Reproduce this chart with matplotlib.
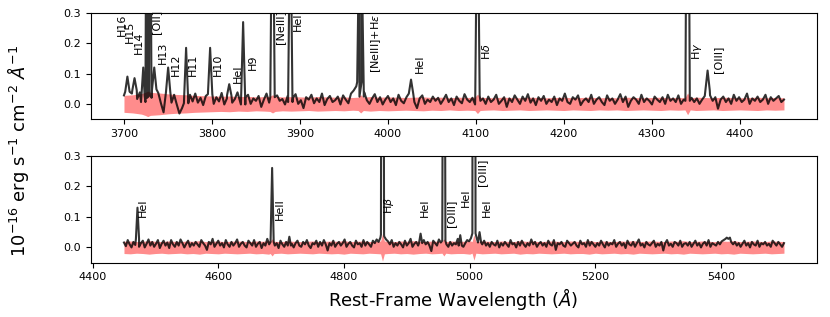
import matplotlib
matplotlib.use('Agg')

import matplotlib.pyplot as plt
import matplotlib.ticker as ticker
import numpy             as np


save_name = 'out.png'

# continuum samples, every 3 A, in units of 1e-3 (x 1e-16 erg/s/cm2/A)
top_start = 3700
bot_start = 4450
cont_step = 3

top_cont = [
    28, 40, 10, 34, 45, 16, 38, 6, 42, 26, 20, 48, 12, 36, 2, -28, 26, 38, 4, 30,
    -2, -32, -14, 24, 2, 30, 8, 34, 4, 20, -4, 26, 12, 32, 0, 22, 8, 36, -2, 18,
    28, 4, 16, 38, 8, -2, 22, 30, 0, 18, 10, 26, -10, 14, 34, 4, 22, 0, 28, 10,
    16, -2, 26, 6, 20, 32, 0, 12, -14, 22, 14, 30, 2, 18, 6, 34, -4, 16, 26, 6,
    12, 24, -2, 28, 14, 2, 34, 44, 58, 72, 24, 38, 12, 0, 18, 32, 6, 22, -2, 14,
    26, 6, 18, -4, 30, 10, 2, 22, 14, 34, 6, -14, 18, 28, 0, 14, 6, 24, 10, 20,
    0, 14, 30, 6, 18, -4, 24, 10, 2, 32, 14, 6, 20, -2, 28, 10, 18, 0, 24, 6,
    14, 30, 0, 10, 22, -10, 18, 6, 28, 14, 0, 24, 10, 32, 4, 18, -4, 22, 10, 26,
    0, 14, 6, 24, -4, 18, 10, 34, 6, 0, 22, 14, 28, -4, 10, 18, 6, 30, 0, 14,
    22, 6, -4, 28, 10, 18, 0, 14, 32, 6, 24, -10, 10, 22, 14, 0, 30, 6, 18, 10,
    -2, 24, 14, 6, 22, 0, 30, 10, 18, 6, 28, 0, 14, 10, 36, 20, 6, 18, 0, 14,
    26, 44, 28, 10, 22, -16, 14, 24, 6, 18, 0, 30, 10, 22, 6, 14, 34, 0, 18, 10,
    24, 6, 14, 30, 0, 22, 10, 18, 26, 6, 14,
]

bot_cont = [
    16, 4, 24, 10, 0, 18, 8, 28, 2, 14, 22, 0, 12, 26, 6, 18, 2, 12, 24, -2,
    12, 22, 6, 16, -2, 24, 10, 2, 18, 6, 26, 14, 0, 12, 22, 2, 14, 6, 18, 10,
    2, 24, 14, 6, -8, 18, 10, 28, 2, 12, 22, 6, 14, 0, 24, 10, 2, 18, 6, 14,
    26, 2, 12, 18, 6, 0, 22, 14, 6, 24, 2, 12, 18, -2, 14, 6, 28, 10, 2, 18,
    6, 14, -2, 22, 10, 2, 18, 26, 6, 12, 0, 14, 22, 6, 2, 18, 10, 24, 6, -2,
    14, 10, 22, 2, 18, 6, 24, 10, -10, 14, 6, 22, 2, 12, 18, 6, 14, 26, 2, 12,
    18, 6, 0, 22, 10, 14, 2, 24, 6, 18, 10, 2, 22, 14, 26, 18, 32, 42, 36, 26,
    20, 10, 24, 2, 14, 6, 18, 10, 0, 22, 6, 14, 28, 2, 12, 18, 6, 14, 2, 24,
    10, 18, 6, -12, 22, 14, 6, 26, 16, 32, 22, 10, 2, 18, 6, 14, 10, 28, 6, 18,
    2, 14, 24, 20, 30, 42, 46, 32, 24, 16, 10, 22, 6, 14, 2, 18, 10, 6, 22, 0,
    14, 6, 18, 10, 2, 24, 10, 14, 0, 18, 6, 22, 10, 2, 14, 6, 26, 10, 18, 2,
    12, 18, 6, 14, 2, 22, 10, 6, 24, -8, 14, 10, 18, 6, 2, 22, 14, 6, 12, 18,
    6, 0, 22, 10, 14, 2, 24, 6, 18, 10, 2, 14, 6, 22, 10, 0, 18, 6, 14, 10,
    24, 2, 12, 18, 6, 14, -2, 22, 10, 6, 18, 2, 14, 26, 6, 12, 0, 18, 10, 6,
    14, 22, 2, 12, 6, 18, -10, 14, 24, 6, 12, 2, 18, 14, 6, 22, 2, 12, 14, 6,
    18, 2, 12, 22, 6, 14, 0, 12, 18, 6, 24, 2, 14, 10, 6, 18, 10, 20, 24, 28,
    32, 26, 18, 10, 18, 6, 14, 2, 12, 22, 6, 14, 0, 18, 10, 6, 22, 2, 14, 10,
    18, 6, 12, 2, 22, 14, 6, 18, 10, 2, 14,
]

# 1 sigma error, every 10 A, in units of 1e-3
err_step = 10

top_err = [
    28, 30, 34, 38, 36, 33, 31, 30, 28, 27,
    26, 25, 26, 24, 25, 23, 24, 25, 23, 24,
    23, 22, 24, 23, 22, 23, 21, 22, 24, 22,
    23, 22, 21, 22, 23, 21, 22, 20, 22, 21,
    22, 21, 20, 22, 21, 20, 22, 21, 20, 21,
    22, 20, 21, 22, 20, 21, 20, 22, 21, 20,
    21, 22, 20, 21, 20, 22, 21, 20, 22, 21,
    20, 21, 22, 20, 21, 20,
]

bot_err = [
    20, 21, 19, 20, 22, 20, 19, 21, 20, 19,
    21, 20, 22, 19, 20, 21, 19, 20, 21, 20,
    19, 21, 20, 22, 20, 19, 21, 20, 19, 20,
    21, 19, 20, 21, 20, 22, 19, 20, 21, 19,
    20, 21, 20, 19, 21, 20, 22, 20, 19, 21,
    20, 19, 21, 20, 20, 22, 19, 21, 20, 19,
    21, 20, 19, 22, 20, 21, 19, 20, 21, 20,
    19, 21, 20, 20, 22, 19, 21, 20, 19, 21,
    20, 22, 19, 20, 21, 20, 19, 21, 20, 22,
    19, 20, 21, 20, 19, 21, 20, 22, 19, 20,
    21, 20, 19, 21, 20, 19,
]

# emission lines: rest wavelength and peak flux (strong ones run off the axes)
top_line_wl   = [3703.9, 3712.0, 3721.9, 3726.0, 3728.8, 3734.4, 3750.2,
                 3770.6, 3797.9, 3819.6, 3835.4, 3868.8, 3889.0, 3967.5,
                 3970.1, 4026.2, 4101.7, 4340.5, 4363.2]
top_line_peak = [0.09, 0.085, 0.12, 1.2, 1.4, 0.12, 0.12,
                 0.185, 0.185, 0.065, 0.27, 0.9, 0.7, 0.6,
                 0.5, 0.08, 0.8, 1.5, 0.11]

bot_line_wl   = [4471.5, 4685.7, 4713.1, 4861.3, 4921.9, 4958.9, 4985.0,
                 5006.8, 5015.7, 5411.5]
bot_line_peak = [0.13, 0.26, 0.035, 3.0, 0.045, 2.0, 0.04,
                 6.0, 0.05, 0.028]

# error residuals at the strong lines, units of 1e-3
top_res_wl  = [3727.0, 3868.8, 3969.0, 4101.7, 4340.5]
top_res_err = [42, 30, 30, 32, 36]
bot_res_wl  = [4685.7, 4861.3, 4958.9, 5006.8]
bot_res_err = [28, 45, 28, 42]

# line labels
top_labels  = ['H16', 'H15', 'H14', '[OII]', 'H13', 'H12', 'H11', 'H10',
               'HeI', 'H9', '[NeIII]', 'HeI', r'[NeIII]+H$\epsilon$', 'HeI',
               r'H$\delta$', r'H$\gamma$', '[OIII]']
top_label_x = [3698, 3707, 3717, 3736, 3744, 3759, 3778, 3807,
               3829, 3846, 3877, 3898, 3987, 4036,
               4111, 4351, 4375]
top_label_y = [0.223, 0.200, 0.165, 0.230, 0.130, 0.091, 0.091, 0.091,
               0.069, 0.113, 0.196, 0.240, 0.102, 0.102,
               0.146, 0.146, 0.102]

bot_labels  = ['HeI', 'HeII', r'H$\beta$', 'HeI', '[OIII]', 'HeI', '[OIII]',
               'HeI']
bot_label_x = [4480, 4698, 4872, 4929, 4971, 4994, 5020, 5027]
bot_label_y = [0.100, 0.090, 0.110, 0.100, 0.068, 0.133, 0.200, 0.100]


def spectrum(start, step, values, line_wl, line_peak, half_width, scale):
    """
    Put the emission lines on top of the sampled continuum

    Args:
        start:      first wavelength of the samples
        step:       sample spacing
        values:     sampled values
        line_wl:    line centres
        line_peak:  line peaks
        half_width: half width of a line
        scale:      unit of the line peaks relative to the samples

    Returns:
        wavelength and value arrays, sorted
    """

    wl = start + step * np.arange(len(values))
    fl = np.asarray(values, dtype=float)

    keep  = np.ones(len(wl), dtype=bool)
    ex_wl = []
    ex_fl = []
    for w, p in zip(line_wl, line_peak):
        base  = fl[np.argmin(np.abs(wl - w))]
        keep &= np.abs(wl - w) >= half_width
        ex_wl += [w - half_width, w, w + half_width]
        ex_fl += [base, p * scale, base]

    wl = np.concatenate([wl[keep], ex_wl])
    fl = np.concatenate([fl[keep], ex_fl])
    order = np.argsort(wl)

    return wl[order], fl[order] / 1000.0


top_wl, top_fl = spectrum(top_start, cont_step, top_cont,
                          top_line_wl, top_line_peak, 2.5, 1000.0)
bot_wl, bot_fl = spectrum(bot_start, cont_step, bot_cont,
                          bot_line_wl, bot_line_peak, 2.5, 1000.0)
top_ewl, top_e = spectrum(top_start, err_step, top_err,
                          top_res_wl, top_res_err, 3.0, 1.0)
bot_ewl, bot_e = spectrum(bot_start, err_step, bot_err,
                          bot_res_wl, bot_res_err, 3.0, 1.0)


fig = plt.figure(figsize=[8.3, 3.17])
ax0 = fig.add_axes([0.1096, 0.6246, 0.8747, 0.3344])
ax1 = fig.add_axes([0.1096, 0.1713, 0.8747, 0.3375])

panels = [
    (ax0, top_wl, top_fl, top_ewl, top_e, top_labels, top_label_x, top_label_y, 100),
    (ax1, bot_wl, bot_fl, bot_ewl, bot_e, bot_labels, bot_label_x, bot_label_y, 200),
]

for ax, wl, fl, ewl, err, labels, lx, ly, major in panels:
    ax.fill_between(ewl, -err, err, color='red', alpha=0.45, lw=0)
    ax.plot(wl, fl, color='k', alpha=0.8, lw=1.5)

    # line names, written upwards
    for text, x, y in zip(labels, lx, ly):
        ax.text(x, y, text, rotation=90, fontsize=8,
                ha='center', va='bottom')

    ax.set_ylim(-0.05, 0.3)
    ax.xaxis.set_major_locator(ticker.MultipleLocator(major))
    ax.yaxis.set_major_locator(ticker.MultipleLocator(0.1))
    ax.tick_params(labelsize=8)

fig.text(0.022, 0.524, r'$10^{-16}$ erg s$^{-1}$ cm$^{-2}$ $\AA^{-1}$',
         rotation=90, fontsize=13, ha='center', va='center')
fig.text(0.546, 0.057, r'Rest-Frame Wavelength ($\AA$)',
         fontsize=13, ha='center', va='center')

plt.savefig(save_name, dpi=100)
